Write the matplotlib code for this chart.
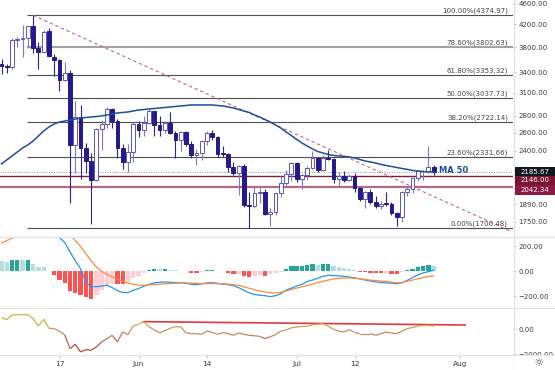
import numpy as np
import matplotlib
matplotlib.use('Agg')
import matplotlib.pyplot as plt
from matplotlib.collections import LineCollection
from matplotlib.patches import Rectangle
from matplotlib.lines import Line2D
from matplotlib.colors import LinearSegmentedColormap, Normalize
from matplotlib.ticker import FixedLocator, NullLocator, NullFormatter, FormatStrFormatter

# velas diarias ETH/USD, 6 mayo -> 27 julio
apertura = [3522, 3492, 3480, 3925, 3935, 3955, 4168, 3785, 3720, 4079,
            3638, 3587, 3282, 3380, 2460, 2784, 2430, 2296, 2109, 2643,
            2706, 2888, 2736, 2424, 2281, 2386, 2706, 2634, 2707, 2855,
            2689, 2630, 2715, 2590, 2517, 2608, 2472, 2353, 2372, 2510,
            2590, 2550, 2374, 2368, 2231, 2178, 2245, 1887, 1874, 1990,
            2000, 1812, 1829, 1985, 2080, 2160, 2275, 2113, 2150, 2226,
            2321, 2198, 2324, 2316, 2115, 2146, 2110, 2140, 2031, 1940,
            1994, 1911, 1880, 1898, 1895, 1820, 1787, 1995, 2025, 2124,
            2188, 2191, 2233]
maximo = [3598, 3530, 3950, 3970, 4197, 4180, 4375, 3880, 4100, 4130,
          3690, 3600, 3562, 3438, 2990, 2940, 2480, 2380, 2650, 2750,
          2911, 2900, 2760, 2470, 2470, 2720, 2740, 2800, 2890, 2860,
          2800, 2740, 2845, 2620, 2620, 2620, 2500, 2420, 2515, 2620,
          2630, 2560, 2450, 2380, 2280, 2250, 2260, 2000, 2045, 2030,
          2020, 1860, 1990, 2140, 2200, 2285, 2285, 2160, 2240, 2400,
          2325, 2350, 2410, 2320, 2185, 2190, 2160, 2170, 2040, 2010,
          2020, 1960, 1920, 1995, 1910, 1830, 2010, 2040, 2130, 2195,
          2200, 2450, 2250]
minimo = [3375, 3390, 3440, 3800, 3640, 3790, 3700, 3450, 3700, 3630,
          3344, 3133, 3268, 1900, 2170, 2113, 2170, 1730, 2100, 2410,
          2650, 2650, 2320, 2210, 2180, 2280, 2550, 2560, 2700, 2560,
          2560, 2600, 2580, 2320, 2400, 2450, 2320, 2250, 2300, 2460,
          2520, 2330, 2330, 2180, 2150, 1970, 1870, 1700, 1860, 1900,
          1800, 1720, 1800, 1950, 2060, 2100, 2090, 2020, 2110, 2210,
          2180, 2190, 2300, 2080, 2050, 2090, 2100, 2000, 1920, 1860,
          1890, 1860, 1855, 1880, 1800, 1718, 1750, 1960, 1990, 2100,
          2110, 2170, 2150]
cierre = [3490, 3480, 3920, 3935, 3955, 4168, 3785, 3715, 4060, 3660,
          3587, 3282, 3380, 2460, 2784, 2430, 2296, 2109, 2643, 2706,
          2888, 2736, 2424, 2281, 2386, 2706, 2634, 2707, 2855, 2689,
          2630, 2715, 2590, 2517, 2608, 2472, 2353, 2372, 2510, 2590,
          2550, 2368, 2368, 2231, 2178, 2245, 1887, 1874, 1990, 2000,
          1812, 1829, 1985, 2080, 2160, 2275, 2113, 2150, 2226, 2321,
          2198, 2324, 2316, 2115, 2146, 2110, 2140, 2031, 1940, 1994,
          1911, 1880, 1898, 1895, 1820, 1787, 1995, 2025, 2124, 2188,
          2191, 2233, 2185.67]

ma50 = [2262, 2303, 2344, 2386, 2429, 2461, 2505, 2561, 2619, 2665,
        2701, 2725, 2737, 2749, 2761, 2774, 2780, 2786, 2792, 2799,
        2811, 2824, 2836, 2843, 2849, 2861, 2874, 2880, 2887, 2893,
        2900, 2906, 2913, 2919, 2926, 2932, 2939, 2939, 2939, 2939,
        2939, 2932, 2926, 2913, 2900, 2880, 2861, 2843, 2811, 2786,
        2755, 2725, 2689, 2653, 2607, 2567, 2522, 2483, 2450, 2418,
        2391, 2375, 2359, 2349, 2344, 2339, 2333, 2323, 2307, 2292,
        2282, 2272, 2257, 2247, 2237, 2227, 2217, 2208, 2198, 2193,
        2188, 2183, 2183]

# MACD (12, 26, 9)
macd = [307, 320, 353, 376, 388, 409, 392, 373, 376, 347,
        308, 270, 230, 155, 85, 20, -85, -123, -123, -118,
        -112, -130, -155, -170, -170, -152, -138, -120, -105, -92,
        -88, -85, -88, -91, -91, -95, -105, -107, -100, -93,
        -91, -96, -103, -107, -115, -131, -152, -173, -185, -192,
        -195, -203, -195, -180, -150, -135, -118, -105, -82, -70,
        -55, -40, -32, -34, -37, -40, -45, -52, -60, -70,
        -78, -85, -90, -93, -96, -100, -92, -72, -50, -30,
        -13, -3, 8]
senal = [227, 245, 265, 283, 300, 316, 330, 338, 343, 345,
         340, 330, 312, 290, 245, 200, 140, 85, 35, 0,
         -25, -45, -62, -80, -95, -104, -112, -112, -109, -106,
         -103, -100, -98, -96, -93, -93, -95, -98, -99, -99,
         -98, -99, -100, -103, -107, -113, -124, -136, -147, -158,
         -166, -171, -173, -168, -158, -146, -134, -124, -114, -103,
         -90, -80, -70, -61, -56, -54, -53, -56, -60, -65,
         -70, -74, -78, -81, -87, -92, -90, -80, -70, -60,
         -50, -42, -36]
histograma = [80, 75, 88, 93, 88, 93, 62, 35, 33, 2,
              -32, -67, -91, -157, -173, -192, -205, -224, -187, -152,
              -112, -99, -102, -104, -85, -51, -37, -13, 13, 16,
              15, 17, 13, 8, 5, 1, -13, -14, -8, 8,
              9, 3, -1, -13, -24, -19, -40, -48, -40, -27,
              -40, -19, -13, -3, 21, 40, 41, 45, 51, 59,
              53, 59, 60, 45, 35, 27, 19, 8, -8, -9,
              -13, -14, -15, -10, -19, -20, -8, 8, 19, 35,
              45, 48, 45]

# oscilador inferior
oscilador = [950, 773, 1147, 1160, 1165, 1173, 853, 267, 800, 80,
             60, -150, -450, -1547, -1200, -1813, -1627, -1680, -1413, -1013,
             -747, -480, -1013, -213, -427, 267, 400, 613, 200, -50,
             -293, -100, 80, 213, 200, -267, -347, -350, -400, -133,
             -250, -400, -267, -350, -480, -293, -400, -480, -520, -560,
             -747, -600, -427, -150, -60, 120, 187, 220, 240, 373,
             400, 453, 250, 0, -150, -213, -27, -250, -347, -347,
             -347, -480, -350, -213, -300, -347, -150, 53, 150, 240,
             300, 320, 240]
osc_linea_x = [27, 88]
osc_linea_y = [613, 344]

# retroceso de Fibonacci
fib_ratios = [100.0, 78.6, 61.8, 50.0, 38.2, 23.6, 0.0]
fib_niveles = [4374.97, 3802.63, 3353.32, 3037.73, 2722.14, 2331.66, 1700.48]
fib_inicio = 4.84
tendencia_x = [6, 96.9]
tendencia_y = [4374.97, 1673]

precio_actual = 2185.67
soporte_1 = 2146.00
soporte_2 = 2042.34

ticks_precio = [4600, 4200, 3800, 3400, 3100, 2800, 2600, 2400, 1890, 1750]
fechas_pos = [11, 26, 39, 56, 67, 87]
fechas_txt = ['17', 'Jun', '14', 'Jul', '12', 'Aug']

W, H = 555, 370
fig = plt.figure(figsize=(W / 100, H / 100), dpi=100)
fig.patch.set_facecolor('white')


def caja(x0, y0, x1, y1):
    return [x0 / W, 1 - y1 / H, (x1 - x0) / W, (y1 - y0) / H]


ax = fig.add_axes(caja(0, 0, 513, 237))
ax_macd = fig.add_axes(caja(0, 237, 513, 308), sharex=ax)
ax_osc = fig.add_axes(caja(0, 308, 513, 355), sharex=ax)

gris_texto = '#3a3a3a'
gris_borde = '#e0e3eb'


def estilo(a):
    for s in a.spines.values():
        s.set_visible(False)
    a.yaxis.tick_right()
    a.tick_params(axis='y', which='major', length=2.5, width=0.6, color='#b2b5be',
                  labelsize=5, labelcolor=gris_texto, pad=1.5)
    a.tick_params(axis='y', which='minor', length=0)
    a.tick_params(axis='x', which='both', bottom=False, labelbottom=False)


for a in (ax, ax_macd, ax_osc):
    estilo(a)

dias = np.arange(len(cierre))
o = np.array(apertura, dtype=float)
c = np.array(cierre, dtype=float)
hi = np.array(maximo, dtype=float)
lo = np.array(minimo, dtype=float)
sube = c >= o
base = np.minimum(o, c)
alto = np.maximum(np.abs(c - o), base * 0.002)

# velas
ax.vlines(dias[sube], lo[sube], hi[sube], color='#7d77cf', lw=0.8, zorder=2)
ax.vlines(dias[~sube], lo[~sube], hi[~sube], color='#2c2393', lw=0.8, zorder=2)
ax.bar(dias[sube], alto[sube], bottom=base[sube], width=0.72, facecolor='white',
       edgecolor='#5b54c2', linewidth=0.7, zorder=3)
ax.bar(dias[~sube], alto[~sube], bottom=base[~sube], width=0.72, facecolor='#241a8c',
       edgecolor='#241a8c', linewidth=0.7, zorder=3)

ax.set_yscale('log')
ax.set_ylim(1636, 4682)
ax.set_xlim(-0.285, 97.06)
ax.yaxis.set_major_locator(FixedLocator(ticks_precio))
ax.yaxis.set_major_formatter(FormatStrFormatter('%.2f'))
ax.yaxis.set_minor_locator(NullLocator())
ax.yaxis.set_minor_formatter(NullFormatter())

# fibonacci
for r, nivel in zip(fib_ratios, fib_niveles):
    col = '#a3a3a3' if r == 78.6 else '#4f4f4f'
    ax.hlines(nivel, fib_inicio, 97.06, color=col, lw=1.5 if r == 78.6 else 0.8, zorder=1)
    ax.text(96.1, nivel * 1.004, f'{r:.2f}%({nivel:.2f})', ha='right', va='bottom',
            fontsize=5, color='#444444', zorder=5)

ax.plot(tendencia_x, tendencia_y, color='#c2688a', lw=0.8, ls=(0, (3, 2.5)), zorder=2)

ax.axhline(precio_actual, color='#8a8d96', lw=0.7, ls=(0, (1, 1.5)), zorder=1)
ax.axhline(soporte_1, color='#7b1f2e', lw=1.0, zorder=1)
ax.axhline(soporte_2, color='#b56a86', lw=1.6, zorder=1)

ax.plot(dias, ma50, color='#1f4e9f', lw=1.1, zorder=4)
ax.text(83.0, ma50[-1] * 1.008, 'MA 50', fontsize=6, color='#1f4e9f',
        ha='left', va='center', fontweight='semibold', zorder=5)

# etiquetas de precio a la derecha
for valor, dy, fondo in [(precio_actual, 0, '#131722'),
                         (soporte_1, -4.5, '#7a1631'),
                         (soporte_2, -3.0, '#8a1a44')]:
    ypx = ax.transData.transform((0, valor))[1] + dy
    fig.add_artist(Rectangle((515 / W, (ypx - 4.7) / H), 40 / W, 9.4 / H,
                             transform=fig.transFigure, facecolor=fondo,
                             edgecolor='none', zorder=6))
    fig.text(535 / W, ypx / H, f'{valor:.2f}', ha='center', va='center',
             fontsize=5, color='white', zorder=7)

# MACD
colores = []
previo = None
for h in histograma:
    if h >= 0:
        colores.append('#26a69a' if previo is not None and h > previo else '#b2dfdb')
    else:
        colores.append('#ffcdd2' if previo is not None and h > previo else '#ff5252')
    previo = h
ax_macd.bar(dias, histograma, width=0.82, color=colores, zorder=2)
ax_macd.plot(dias, macd, color='#2196f3', lw=0.9, zorder=3)
ax_macd.plot(dias, senal, color='#ff8a3d', lw=0.9, zorder=3)
ax_macd.set_ylim(-293.6, 274.4)
ax_macd.set_yticks([200, 0, -200], ['200.00', '0.00', '\u2212200.00'])

# oscilador
cmap = LinearSegmentedColormap.from_list('osc', ['#b14a36', '#c0806a', '#c9b24a'])
norma = Normalize(-1500, 500)
pts = np.column_stack([dias, oscilador]).reshape(-1, 1, 2)
segs = np.concatenate([pts[:-1], pts[1:]], axis=1)
medio = (np.array(oscilador[:-1]) + np.array(oscilador[1:])) / 2
lc = LineCollection(segs, colors=cmap(norma(medio)), linewidths=0.9, zorder=3)
ax_osc.add_collection(lc)
ax_osc.plot(osc_linea_x, osc_linea_y, color='#e0383e', lw=1.2, zorder=2)
ax_osc.set_ylim(-2056, 1704)
ax_osc.set_yticks([0, -2000], ['0.00', '\u22122000.00'])
ax_osc.set_xticks(fechas_pos, fechas_txt)
ax_osc.tick_params(axis='x', which='major', bottom=True, labelbottom=True, length=2.5,
                   width=0.6, color='#b2b5be', labelsize=5.3, labelcolor=gris_texto, pad=2)

# separadores de paneles
for ypx in (237, 308, 355):
    fig.add_artist(Line2D([0, 1], [1 - ypx / H] * 2, transform=fig.transFigure,
                          color=gris_borde, lw=0.9, zorder=4))
fig.add_artist(Line2D([513.5 / W] * 2, [0, 1], transform=fig.transFigure,
                      color=gris_borde, lw=0.9, zorder=4))

# esquina inferior derecha
fig.add_artist(Rectangle((514.2 / W, 0), 41 / W, 14.5 / H, transform=fig.transFigure,
                         facecolor='white', edgecolor='none', zorder=8))
fig.text(538 / W, 1 - 363 / H, '\u263c', ha='center', va='center', fontsize=8,
         color='#555555', zorder=9)

fig.savefig('out.png', dpi=100)
